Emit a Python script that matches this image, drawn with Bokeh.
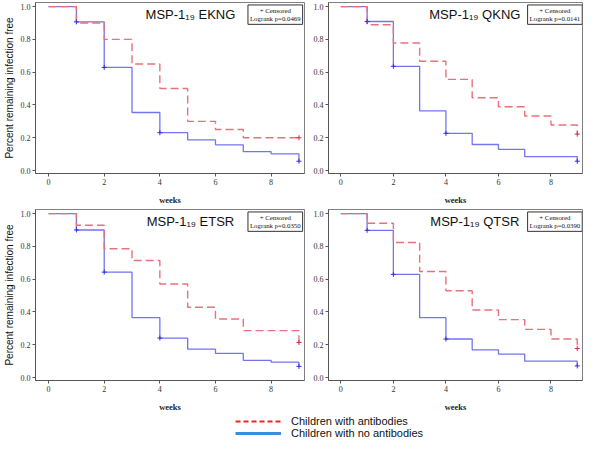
from bokeh.plotting import figure
from bokeh.layouts import column, row
from bokeh.models import Label, Legend, LegendItem, Range1d, FixedTicker, CustomJSTickFormatter
from bokeh.embed import file_html
from bokeh.resources import INLINE

# ---------------- data ----------------
weeks = [0, 1, 2, 3, 4, 5, 6, 7, 8, 9]
x_ticks = [0, 2, 4, 6, 8]
y_ticks = [0.0, 0.2, 0.4, 0.6, 0.8, 1.0]

antigens = ["EKNG", "QKNG", "ETSR", "QTSR"]
logrank_p = ["0.0469", "0.0141", "0.0350", "0.0390"]

ekng_with = [1.0, 0.900, 0.800, 0.650, 0.500, 0.300, 0.250, 0.200, 0.200, 0.200]
ekng_without = [1.0, 0.907, 0.629, 0.354, 0.231, 0.187, 0.157, 0.115, 0.102, 0.057]

qkng_with = [1.0, 0.889, 0.778, 0.667, 0.556, 0.444, 0.389, 0.333, 0.278, 0.222]
qkng_without = [1.0, 0.909, 0.636, 0.364, 0.227, 0.159, 0.129, 0.085, 0.085, 0.057]

etsr_with = [1.0, 0.929, 0.786, 0.714, 0.571, 0.429, 0.357, 0.286, 0.286, 0.214]
etsr_without = [1.0, 0.900, 0.643, 0.365, 0.241, 0.173, 0.147, 0.105, 0.094, 0.068]

qtsr_with = [1.0, 0.941, 0.824, 0.647, 0.529, 0.412, 0.353, 0.294, 0.235, 0.177]
qtsr_without = [1.0, 0.898, 0.629, 0.365, 0.235, 0.169, 0.143, 0.100, 0.100, 0.071]

censored_weeks_with = [9]
censored_weeks_without = [1, 2, 4, 9]

legend_labels = ["Children with antibodies", "Children with no antibodies"]

# ---------------- style ----------------
RED_LINE = "#E8727C"
BLUE_LINE = "#7474EE"
RED_MARK = "#D62A3C"
BLUE_MARK = "#2E2EE0"
SERIF = "Liberation Serif"
SANS = "Liberation Sans"


def make_panel(idx, with_ab, without_ab, left_panel):
    w = 306 if left_panel else 278
    p = figure(width=w, height=207, toolbar_location=None, output_backend="svg",
               x_range=Range1d(-0.47, 9.2), y_range=Range1d(-0.018, 1.025),
               min_border_left=30 if left_panel else 22, min_border_right=2,
               min_border_top=2, min_border_bottom=32)
    p.grid.visible = False
    p.outline_line_color = "#808080"
    p.outline_line_width = 1

    for ax in (p.xaxis[0], p.yaxis[0]):
        ax.axis_line_color = "#555555"
        ax.major_tick_line_color = "#555555"
        ax.minor_tick_line_color = None
        ax.major_tick_in = 0
        ax.major_tick_out = 3
        ax.major_label_text_font = SERIF
        ax.major_label_text_font_size = "8px"
        ax.major_label_text_color = "#333333"
        ax.major_label_standoff = 2
    p.xaxis.ticker = FixedTicker(ticks=x_ticks)
    p.yaxis.ticker = FixedTicker(ticks=y_ticks)
    p.yaxis.formatter = CustomJSTickFormatter(code="return tick.toFixed(1);")

    p.xaxis.axis_label = "weeks"
    p.xaxis.axis_label_text_font = SERIF
    p.xaxis.axis_label_text_font_size = "8.5px"
    p.xaxis.axis_label_text_font_style = "bold"
    p.xaxis.axis_label_text_color = "#222222"
    p.xaxis.axis_label_standoff = 7
    if left_panel:
        p.yaxis.axis_label = "Percent remaining infection free"
        p.yaxis.axis_label_text_font = SANS
        p.yaxis.axis_label_text_font_size = "10px"
        p.yaxis.axis_label_text_font_style = "normal"
        p.yaxis.axis_label_text_color = "#111111"
        p.yaxis.axis_label_standoff = 3

    p.step(weeks, without_ab, mode="after", line_color=BLUE_LINE, line_width=1.3)
    p.step(weeks, with_ab, mode="after", line_color=RED_LINE, line_width=1.4,
           line_dash="8 4")

    cx_w = censored_weeks_without
    cy_w = [without_ab[weeks.index(t)] for t in cx_w]
    p.scatter(cx_w, cy_w, marker="cross", size=5, line_color=BLUE_MARK, line_width=1)
    cx_a = censored_weeks_with
    cy_a = [with_ab[weeks.index(t)] for t in cx_a]
    p.scatter(cx_a, cy_a, marker="cross", size=5, line_color=RED_MARK, line_width=1)

    p.add_layout(Label(x=5.1, y=0.95, text="MSP-1\u2081\u2089 " + antigens[idx],
                       text_font=SANS, text_font_size="13px", text_color="#111111",
                       text_align="center", text_baseline="middle"))
    p.add_layout(Label(x=8.15, y=1.01, text="+ Censored\nLogrank p=" + logrank_p[idx],
                       text_font=SERIF, text_font_size="6.8px", text_color="#111111",
                       text_align="center", text_baseline="top",
                       border_line_color="#333333", border_line_width=1,
                       background_fill_color="white", padding=2))
    return p


p1 = make_panel(0, ekng_with, ekng_without, True)
p2 = make_panel(1, qkng_with, qkng_without, False)
p3 = make_panel(2, etsr_with, etsr_without, True)
p4 = make_panel(3, qtsr_with, qtsr_without, False)

# legend panel (dummy renderers lie outside the visible range)
lf = figure(width=584, height=26, toolbar_location=None, output_backend="svg",
            x_range=Range1d(0, 1), y_range=Range1d(0, 1), x_axis_type=None,
            y_axis_type=None, min_border=0)
lf.grid.visible = False
lf.outline_line_color = None
r1 = lf.line(x=[5, 6], y=[5, 5], line_color="#FF2020", line_width=2, line_dash="5 3")
r2 = lf.line(x=[5, 6], y=[5, 5], line_color="#3B8EDB", line_width=3)
leg = Legend(items=[LegendItem(label=legend_labels[0], renderers=[r1]),
                    LegendItem(label=legend_labels[1], renderers=[r2])],
             location=(235, 1), orientation="vertical", glyph_width=46,
             glyph_height=12, label_height=12, spacing=0, padding=0, margin=0,
             label_standoff=10, border_line_alpha=0, background_fill_alpha=0,
             label_text_font=SANS, label_text_font_size="11px",
             label_text_color="#111111")
lf.add_layout(leg)

layout = column(row(p1, p2), row(p3, p4), lf)

with open("out.html", "w") as f:
    f.write(file_html(layout, INLINE))
